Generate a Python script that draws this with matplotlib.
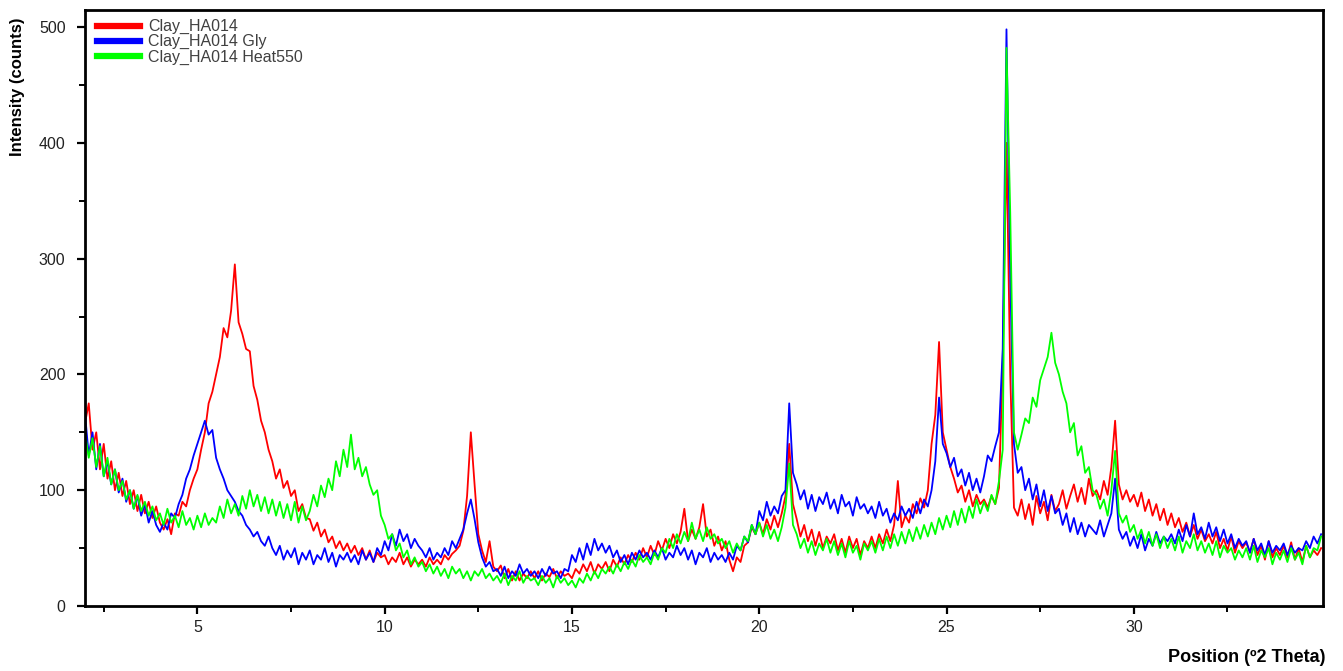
import numpy as np
import matplotlib
matplotlib.use("Agg")
import matplotlib.pyplot as plt

plt.rcParams['font.family'] = ['Liberation Sans', 'DejaVu Sans']

# scan positions (deg 2-theta), 0.1 step from 2 to 35
two_theta = np.round(np.arange(2.0, 35.05, 0.1), 2)

# intensities, one row per degree (x.0 .. x.9)
clay = [
    158, 175, 135, 150, 118, 140, 110, 125, 100, 115,   # 2
    95, 108, 88, 100, 82, 96, 80, 90, 76, 86,           # 3
    72, 66, 75, 62, 80, 78, 90, 86, 100, 110,           # 4
    118, 135, 150, 175, 185, 200, 215, 240, 232, 255,   # 5
    295, 245, 235, 222, 220, 190, 178, 160, 150, 135,   # 6
    125, 110, 118, 102, 108, 95, 100, 82, 88, 76,       # 7
    75, 65, 72, 60, 66, 55, 60, 50, 56, 48,             # 8
    54, 46, 52, 44, 50, 40, 48, 38, 46, 42,             # 9
    44, 36, 42, 38, 46, 36, 42, 34, 40, 36,             # 10
    40, 34, 42, 36, 40, 36, 44, 40, 45, 48,             # 11
    52, 65, 95, 150, 105, 62, 48, 38, 56, 34,           # 12
    30, 35, 24, 32, 22, 30, 22, 28, 24, 30,             # 13
    24, 30, 22, 28, 25, 32, 24, 30, 26, 28,             # 14
    24, 32, 28, 36, 30, 38, 28, 36, 32, 38,             # 15
    30, 40, 34, 42, 36, 44, 38, 46, 40, 50,             # 16
    42, 52, 44, 56, 48, 58, 50, 62, 54, 64,             # 17
    84, 56, 66, 58, 68, 88, 60, 66, 52, 60,             # 18
    48, 56, 40, 30, 42, 38, 52, 55, 68, 62,             # 19
    72, 62, 75, 66, 78, 68, 80, 95, 140, 88,            # 20
    75, 60, 70, 56, 66, 52, 64, 50, 60, 54,             # 21
    62, 48, 58, 46, 60, 50, 58, 44, 56, 50,             # 22
    60, 50, 62, 54, 66, 56, 70, 108, 68, 78,            # 23
    72, 88, 80, 93, 85, 100, 140, 165, 228, 150,        # 24
    135, 120, 110, 98, 104, 90, 100, 86, 96, 88,        # 25
    92, 85, 95, 88, 102, 210, 400, 200, 85, 78,         # 26
    92, 75, 88, 70, 95, 80, 90, 74, 96, 82,             # 27
    88, 100, 84, 95, 105, 90, 102, 88, 110, 95,         # 28
    100, 92, 108, 96, 120, 160, 105, 92, 100, 90,       # 29
    96, 86, 98, 82, 92, 78, 88, 74, 84, 70,             # 30
    80, 68, 76, 64, 72, 60, 70, 58, 66, 56,             # 31
    62, 54, 64, 50, 58, 48, 60, 46, 56, 50,             # 32
    55, 46, 58, 44, 52, 40, 56, 42, 50, 44,             # 33
    52, 42, 55, 40, 50, 38, 52, 42, 48, 44,             # 34
    50,                                                 # 35
]

clay_gly = [
    166, 130, 150, 118, 140, 112, 125, 105, 118, 98,    # 2
    110, 90, 100, 84, 95, 78, 88, 72, 82, 70,           # 3
    64, 72, 66, 80, 76, 88, 96, 110, 118, 130,          # 4
    140, 150, 160, 148, 152, 128, 118, 110, 100, 95,    # 5
    90, 82, 78, 70, 66, 60, 64, 56, 52, 60,             # 6
    50, 44, 52, 40, 48, 42, 50, 36, 46, 40,             # 7
    48, 36, 44, 40, 50, 38, 46, 34, 44, 40,             # 8
    46, 38, 44, 36, 48, 40, 46, 38, 50, 44,             # 9
    56, 48, 62, 52, 66, 56, 62, 50, 58, 52,             # 10
    48, 42, 50, 40, 46, 42, 50, 44, 56, 50,             # 11
    58, 66, 80, 92, 75, 55, 42, 34, 38, 30,             # 12
    32, 26, 34, 24, 30, 26, 36, 28, 32, 26,             # 13
    30, 24, 32, 26, 34, 28, 30, 24, 32, 30,             # 14
    44, 38, 50, 40, 54, 44, 58, 48, 54, 46,             # 15
    52, 42, 48, 38, 44, 36, 46, 40, 48, 42,             # 16
    46, 40, 48, 42, 50, 40, 46, 42, 52, 44,             # 17
    50, 40, 48, 36, 46, 42, 50, 38, 46, 40,             # 18
    44, 38, 46, 40, 52, 48, 60, 55, 70, 62,             # 19
    82, 74, 90, 78, 86, 80, 95, 100, 175, 115,          # 20
    105, 92, 100, 84, 96, 82, 94, 88, 98, 84,           # 21
    92, 80, 96, 86, 90, 78, 94, 84, 88, 80,             # 22
    86, 76, 90, 78, 84, 72, 80, 74, 86, 78,             # 23
    84, 76, 90, 80, 92, 86, 100, 125, 180, 140,         # 24
    132, 120, 128, 112, 118, 104, 115, 100, 110, 98,    # 25
    112, 130, 125, 138, 150, 222, 498, 285, 140, 115,   # 26
    120, 100, 110, 92, 105, 86, 100, 82, 95, 80,        # 27
    84, 70, 80, 64, 76, 62, 72, 60, 70, 66,             # 28
    62, 74, 60, 70, 80, 110, 66, 58, 64, 52,            # 29
    60, 50, 62, 48, 58, 52, 64, 54, 60, 56,             # 30
    62, 54, 66, 56, 70, 60, 80, 62, 68, 58,             # 31
    72, 60, 68, 56, 66, 54, 62, 50, 58, 52,             # 32
    56, 46, 58, 48, 54, 44, 56, 46, 52, 48,             # 33
    54, 44, 52, 46, 50, 48, 56, 50, 60, 54,             # 34
    62,                                                 # 35
]

clay_heat550 = [
    150, 128, 145, 120, 138, 112, 128, 105, 118, 100,   # 2
    108, 92, 100, 84, 96, 82, 90, 78, 86, 74,           # 3
    80, 70, 84, 72, 78, 68, 82, 70, 76, 66,             # 4
    78, 68, 80, 70, 76, 72, 86, 76, 92, 80,             # 5
    88, 78, 95, 84, 100, 86, 96, 82, 94, 80,            # 6
    92, 78, 90, 76, 88, 74, 90, 72, 86, 74,             # 7
    82, 96, 86, 104, 94, 110, 100, 125, 112, 135,       # 8
    120, 148, 118, 128, 112, 120, 105, 96, 100, 78,     # 9
    70, 58, 62, 48, 54, 42, 48, 36, 42, 34,             # 10
    38, 30, 36, 28, 34, 26, 32, 24, 34, 28,             # 11
    32, 24, 30, 22, 30, 26, 32, 24, 28, 22,             # 12
    26, 20, 28, 18, 26, 22, 30, 20, 26, 22,             # 13
    24, 18, 26, 20, 24, 16, 26, 20, 24, 18,             # 14
    22, 16, 24, 20, 28, 22, 30, 24, 32, 28,             # 15
    34, 28, 36, 30, 38, 32, 40, 34, 44, 38,             # 16
    42, 36, 46, 40, 50, 46, 58, 50, 62, 54,             # 17
    64, 56, 72, 58, 66, 56, 68, 58, 62, 54,             # 18
    58, 50, 56, 46, 54, 48, 60, 56, 70, 62,             # 19
    72, 60, 70, 58, 66, 56, 68, 85, 123, 70,            # 20
    62, 50, 58, 46, 56, 44, 54, 48, 58, 46,             # 21
    56, 44, 54, 42, 56, 46, 52, 40, 54, 48,             # 22
    56, 46, 58, 48, 60, 50, 62, 52, 64, 54,             # 23
    66, 56, 68, 58, 70, 60, 72, 62, 76, 66,             # 24
    78, 68, 82, 70, 84, 72, 86, 76, 92, 80,             # 25
    90, 82, 96, 88, 108, 135, 482, 340, 150, 135,       # 26
    148, 162, 158, 180, 172, 195, 205, 215, 236, 210,   # 27
    200, 185, 175, 150, 158, 130, 138, 115, 120, 100,   # 28
    96, 84, 92, 78, 100, 134, 80, 72, 78, 64,           # 29
    70, 58, 66, 54, 64, 52, 62, 50, 60, 50,             # 30
    58, 48, 60, 46, 56, 50, 62, 48, 56, 46,             # 31
    54, 44, 56, 42, 52, 46, 50, 40, 48, 42,             # 32
    50, 40, 52, 38, 48, 42, 50, 36, 46, 40,             # 33
    48, 38, 50, 40, 46, 36, 52, 42, 50, 48,             # 34
    60,                                                 # 35
]

labels = ['Clay_HA014', 'Clay_HA014 Gly', 'Clay_HA014 Heat550']
colors = ['#ff0000', '#0000ff', '#00ff00']

fig = plt.figure(figsize=(13.43, 6.71), dpi=100)
ax = fig.add_axes([85 / 1343, 65 / 671, 1238 / 1343, 596 / 671])

for series, label, color in zip([clay, clay_gly, clay_heat550], labels, colors):
    ax.plot(two_theta, series, color=color, lw=1.3, label=label)

ax.set_xlim(2.0, 35.05)
ax.set_ylim(0, 514.7)
ax.set_xticks([5, 10, 15, 20, 25, 30])
ax.set_xticks([2.5, 7.5, 12.5, 17.5, 22.5, 27.5, 32.5], minor=True)
ax.set_yticks([0, 100, 200, 300, 400, 500])
ax.set_yticks([50, 150, 250, 350, 450], minor=True)
ax.tick_params(which='major', direction='out', length=6, width=1.6,
               labelsize=11.5, labelcolor='#222222')
ax.tick_params(axis='y', which='major', pad=8)
ax.tick_params(axis='x', which='major', pad=4)
ax.tick_params(which='minor', direction='out', length=4, width=1.4)
for sp in ax.spines.values():
    sp.set_linewidth(2.0)

leg = ax.legend(loc='upper left', bbox_to_anchor=(0.007, 0.99), frameon=False,
                fontsize=11.5, labelspacing=0.0, handlelength=2.7,
                handletextpad=0.5, borderaxespad=0.0, borderpad=0.2)
for line in leg.get_lines():
    line.set_linewidth(4.5)
for txt in leg.get_texts():
    txt.set_color('#404040')

fig.text(18 / 1343, 1 - 18 / 671, 'Intensity (counts)', rotation=90,
         ha='center', va='top', fontsize=12, fontweight='bold')
fig.text(1325 / 1343, 1 - 658 / 671, 'Position (\u00ba2 Theta)',
         ha='right', va='center', fontsize=13, fontweight='bold')

fig.savefig('out.png', dpi=100)
